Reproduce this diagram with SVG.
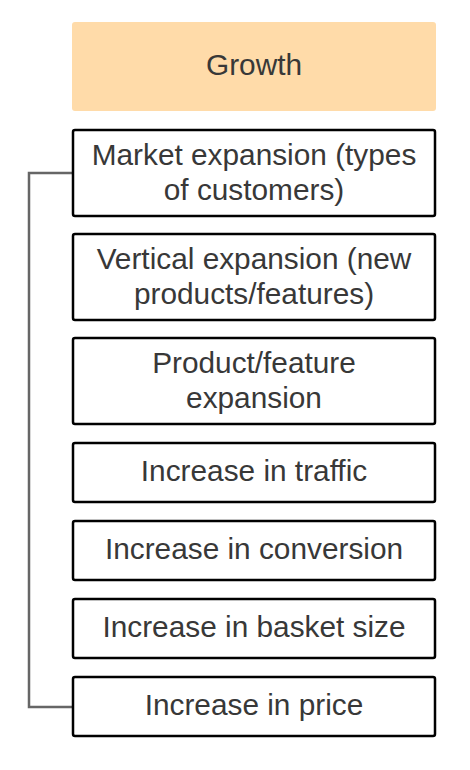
<svg xmlns="http://www.w3.org/2000/svg" width="470" height="770" viewBox="0 0 470 770">
<style>
.box{fill:#ffffff;stroke:#000000;stroke-width:2.5}
.t{font-family:"Liberation Sans",Arial,sans-serif;font-size:29.8px;fill:#383838;text-anchor:middle}
.conn{fill:none;stroke:#666666;stroke-width:2.5}
</style>
<rect width="470" height="770" fill="#ffffff"/>
<g id="connectors">
<path class="conn" d="M73,173 H29 V707 H73"/>
</g>
<g id="growth">
<rect x="72" y="22" width="364" height="89" rx="3" fill="#ffdba9"/>
<text class="t" x="254" y="75">Growth</text>
</g>
<g id="market">
<rect class="box" x="73" y="130" width="362" height="86" rx="2"/>
<text class="t" x="254" y="165">Market expansion (types</text>
<text class="t" x="254" y="200">of customers)</text>
</g>
<g id="vertical">
<rect class="box" x="73" y="234" width="362" height="86" rx="2"/>
<text class="t" x="254" y="269">Vertical expansion (new</text>
<text class="t" x="254" y="304">products/features)</text>
</g>
<g id="product">
<rect class="box" x="73" y="338" width="362" height="86" rx="2"/>
<text class="t" x="254" y="373">Product/feature</text>
<text class="t" x="254" y="408">expansion</text>
</g>
<g id="traffic">
<rect class="box" x="73" y="443" width="362" height="59" rx="2"/>
<text class="t" x="254" y="481">Increase in traffic</text>
</g>
<g id="conversion">
<rect class="box" x="73" y="521" width="362" height="59" rx="2"/>
<text class="t" x="254" y="559">Increase in conversion</text>
</g>
<g id="basket">
<rect class="box" x="73" y="599" width="362" height="59" rx="2"/>
<text class="t" x="254" y="637">Increase in basket size</text>
</g>
<g id="price">
<rect class="box" x="73" y="677" width="362" height="59" rx="2"/>
<text class="t" x="254" y="715">Increase in price</text>
</g>
</svg>
